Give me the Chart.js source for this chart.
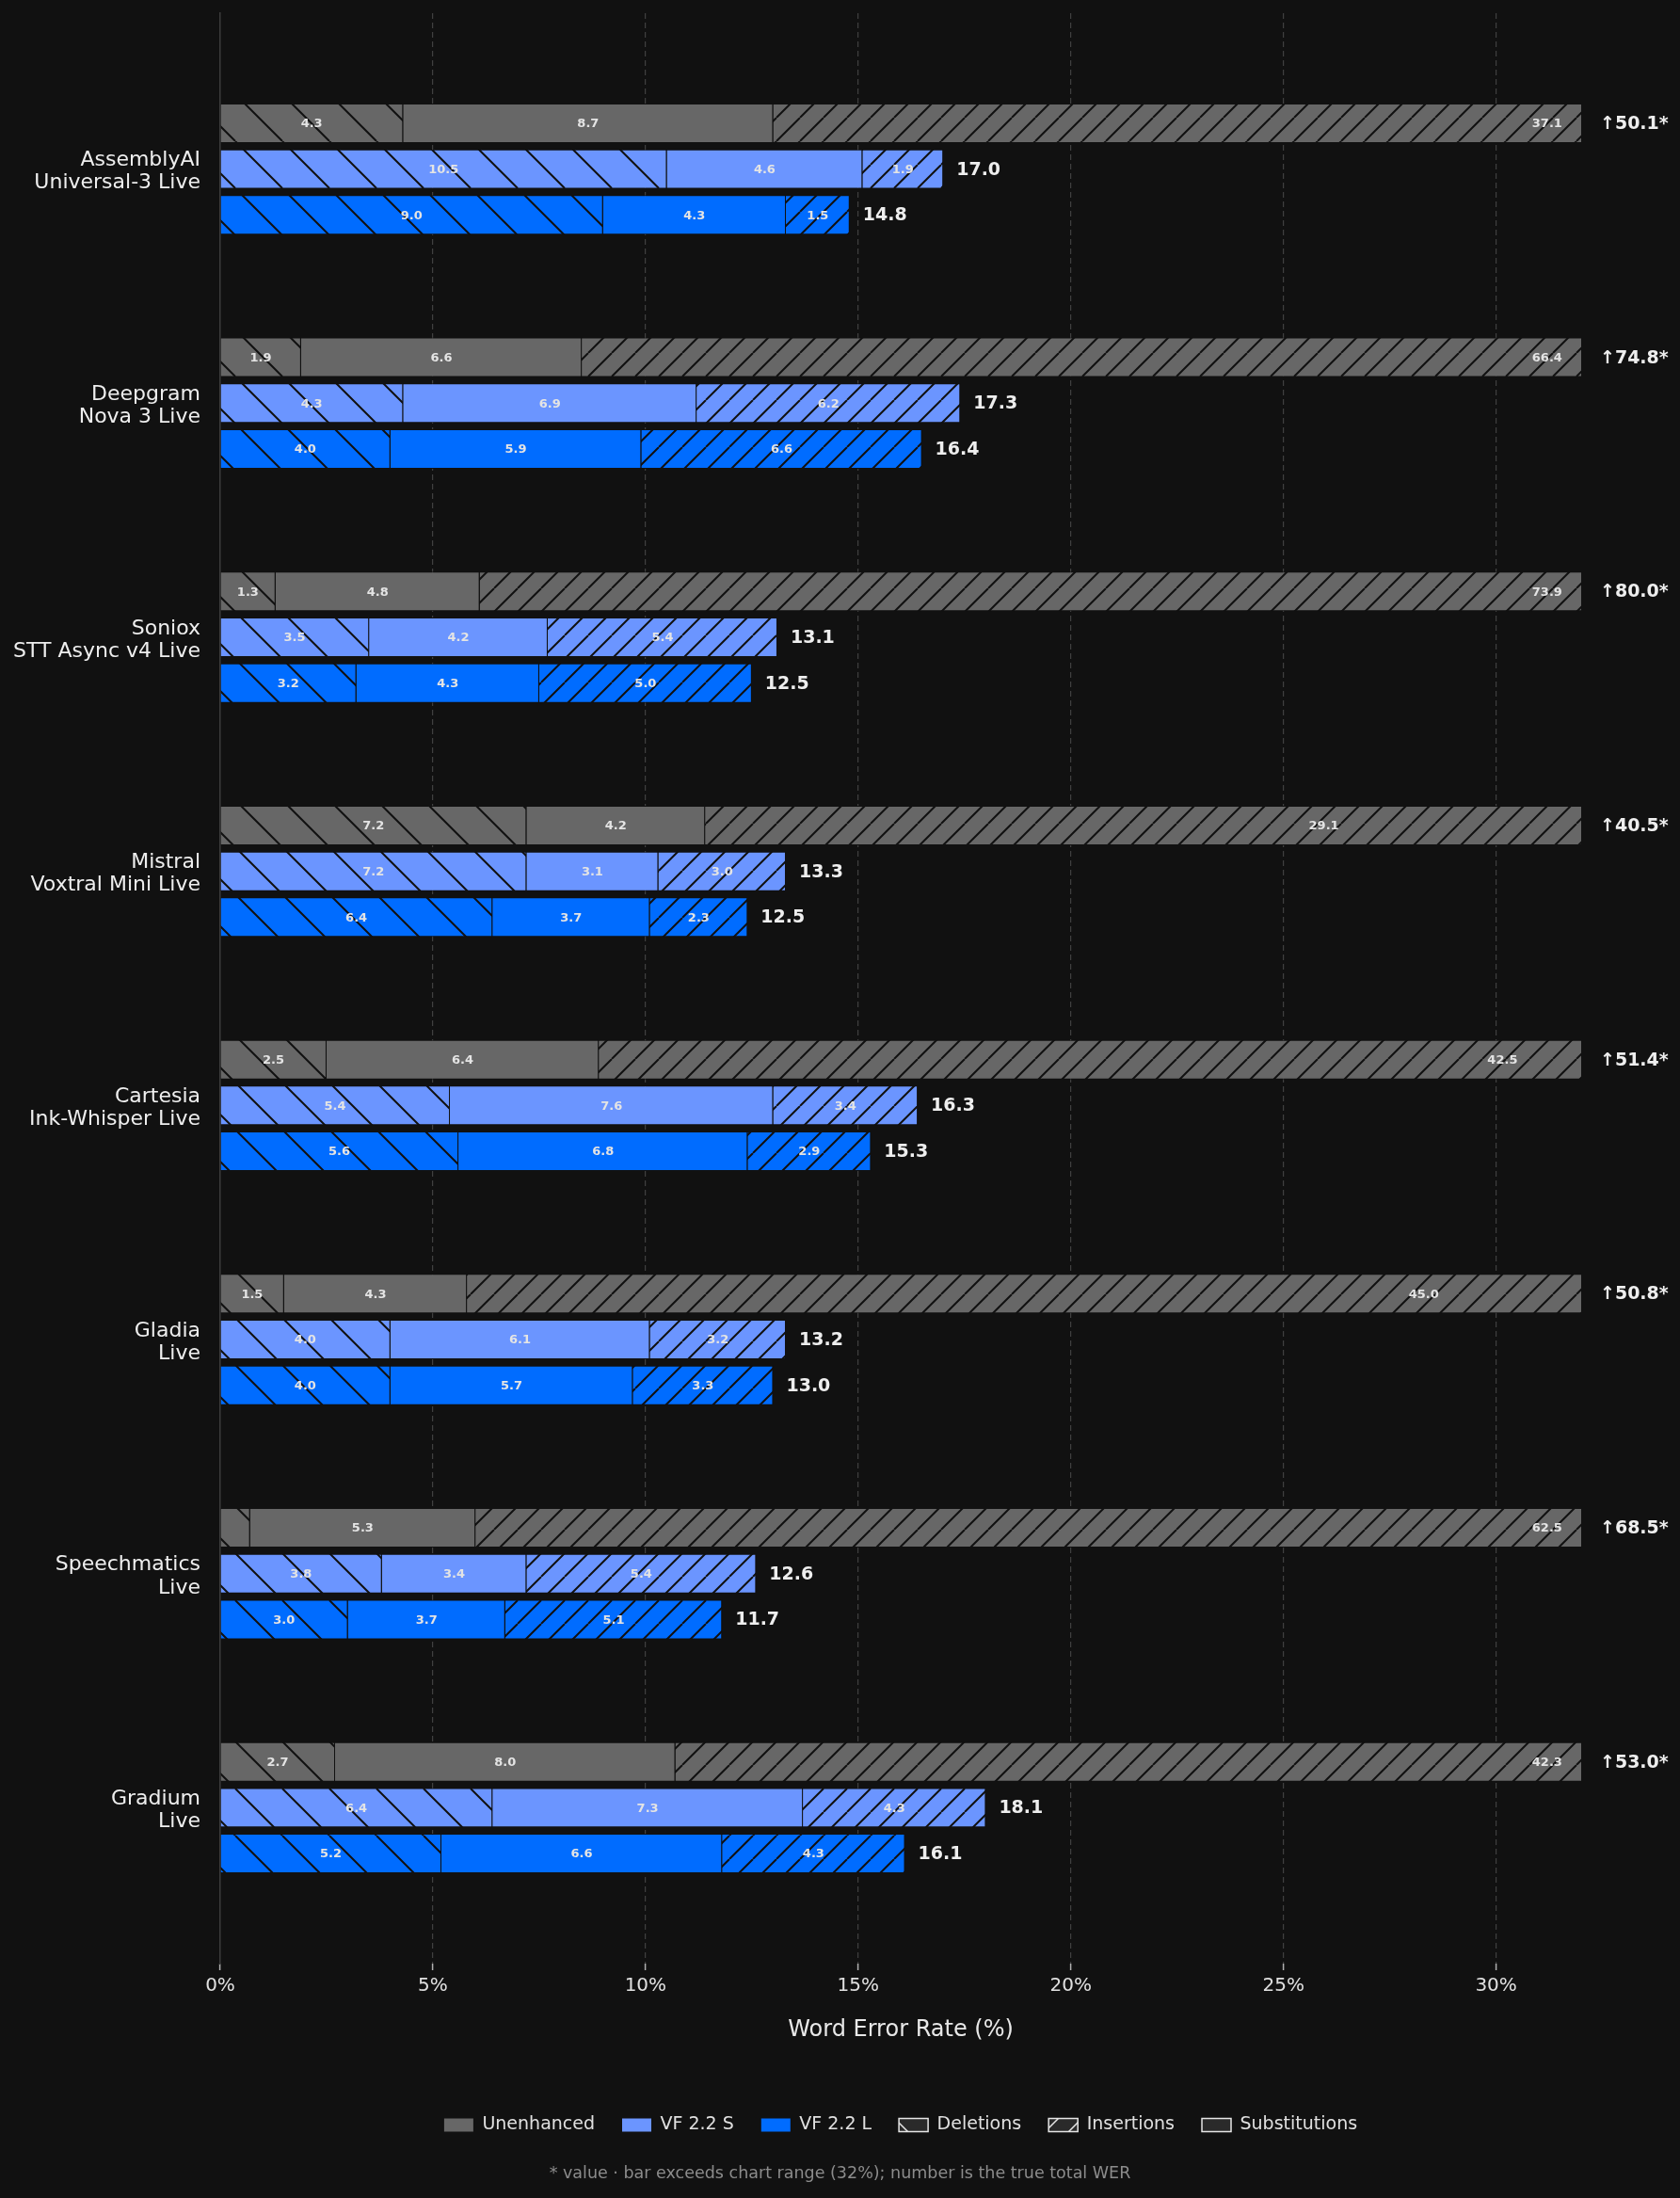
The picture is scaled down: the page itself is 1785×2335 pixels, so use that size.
<!DOCTYPE html>
<html>
<head>
<meta charset="utf-8">
<title>WER breakdown</title>
<script src="https://cdn.jsdelivr.net/npm/chart.js@4.4.1/dist/chart.umd.min.js"></script>
<style>
  html, body { margin: 0; padding: 0; background: #111111; }
  #wrap { width: 1785px; height: 2335px; position: relative; }
</style>
</head>
<body>
<div id="wrap"><canvas id="werChart"></canvas></div>
<script>
// Providers (two-line labels on the y axis)
const providers = [
    ['AssemblyAI', 'Universal-3 Live'],
    ['Deepgram', 'Nova 3 Live'],
    ['Soniox', 'STT Async v4 Live'],
    ['Mistral', 'Voxtral Mini Live'],
    ['Cartesia', 'Ink-Whisper Live'],
    ['Gladia', 'Live'],
    ['Speechmatics', 'Live'],
    ['Gradium', 'Live']
];

// Unenhanced: deletions / substitutions / insertions (%)
const unDel = [4.3, 1.9, 1.3, 7.2, 2.5, 1.5, 0.7, 2.7];
const unSub = [8.7, 6.6, 4.8, 4.2, 6.4, 4.3, 5.3, 8.0];
const unIns = [37.1, 66.4, 73.9, 29.1, 42.5, 45.0, 62.5, 42.3];
const unTotal = [50.1, 74.8, 80.0, 40.5, 51.4, 50.8, 68.5, 53.0];

// VF 2.2 S
const sDel = [10.5, 4.3, 3.5, 7.2, 5.4, 4.0, 3.8, 6.4];
const sSub = [4.6, 6.9, 4.2, 3.1, 7.6, 6.1, 3.4, 7.3];
const sIns = [1.9, 6.2, 5.4, 3.0, 3.4, 3.2, 5.4, 4.3];
const sTotal = [17.0, 17.3, 13.1, 13.3, 16.3, 13.2, 12.6, 18.1];

// VF 2.2 L
const lDel = [9.0, 4.0, 3.2, 6.4, 5.6, 4.0, 3.0, 5.2];
const lSub = [4.3, 5.9, 4.3, 3.7, 6.8, 5.7, 3.7, 6.6];
const lIns = [1.5, 6.6, 5.0, 2.3, 2.9, 3.3, 5.1, 4.3];
const lTotal = [14.8, 16.4, 12.5, 12.5, 15.3, 13.0, 11.7, 16.1];

const xTicks = [0, 5, 10, 15, 20, 25, 30];
const xMax = 32;

const canvas = document.getElementById('werChart');
const ctx = canvas.getContext('2d');

// hatch pattern: dir 'back' = "\" , 'fwd' = "/"
function makeHatch(bg, line, dir, step, lw) {
    const c = document.createElement('canvas');
    c.width = step;
    c.height = step;
    const g = c.getContext('2d');
    g.fillStyle = bg;
    g.fillRect(0, 0, step, step);
    g.strokeStyle = line;
    g.lineWidth = lw;
    g.beginPath();
    for (let k = -1; k <= 1; k++) {
        if (dir === 'back') {
            g.moveTo(k * step, 0);
            g.lineTo(k * step + step, step);
        } else {
            g.moveTo(k * step, step);
            g.lineTo(k * step + step, 0);
        }
    }
    g.stroke();
    return ctx.createPattern(c, 'repeat');
}

const groups = [
    { name: 'Unenhanced', stack: 'U', color: '#676767', parts: [unDel, unSub, unIns], total: unTotal },
    { name: 'VF 2.2 S', stack: 'S', color: '#6b95ff', parts: [sDel, sSub, sIns], total: sTotal },
    { name: 'VF 2.2 L', stack: 'L', color: '#006cff', parts: [lDel, lSub, lIns], total: lTotal }
];
const partNames = ['Deletions', 'Substitutions', 'Insertions'];

const datasets = [];
groups.forEach(grp => {
    const fills = [
        makeHatch(grp.color, '#111111', 'back', 50, 2),
        grp.color,
        makeHatch(grp.color, '#111111', 'fwd', 25, 2)
    ];
    grp.parts.forEach((arr, pi) => {
        datasets.push({
            label: grp.name + ' ' + partNames[pi],
            stack: grp.stack,
            data: arr.map((v, i) => ({ x: v, y: i })),
            backgroundColor: fills[pi],
            borderColor: '#111111',
            borderWidth: 1,
            categoryPercentage: 0.5875,
            barPercentage: 0.862
        });
    });
});

const legendBg = '#2a2a2a';
const legendText = '#e0e0e0';
const legendItems = [
    { text: 'Unenhanced', fillStyle: '#676767', strokeStyle: '#676767', lineWidth: 0 },
    { text: 'VF 2.2 S', fillStyle: '#6b95ff', strokeStyle: '#6b95ff', lineWidth: 0 },
    { text: 'VF 2.2 L', fillStyle: '#006cff', strokeStyle: '#006cff', lineWidth: 0 },
    { text: 'Deletions', fillStyle: makeHatch(legendBg, '#e6e6e6', 'back', 50, 1.5), strokeStyle: '#e6e6e6', lineWidth: 1.5 },
    { text: 'Insertions', fillStyle: makeHatch(legendBg, '#e6e6e6', 'fwd', 25, 1.5), strokeStyle: '#e6e6e6', lineWidth: 1.5 },
    { text: 'Substitutions', fillStyle: legendBg, strokeStyle: '#e6e6e6', lineWidth: 1.5 }
];

// segment values, totals and the footnote
const valueLabels = {
    id: 'valueLabels',
    afterDatasetsDraw(chart) {
        const c = chart.ctx;
        const x = chart.scales.x;
        const area = chart.chartArea;
        c.save();
        groups.forEach((grp, gi) => {
            const meta = chart.getDatasetMeta(gi * 3);
            providers.forEach((p, i) => {
                const y = meta.data[i].y;
                let start = 0;
                c.font = 'bold 13px "DejaVu Sans"';
                c.fillStyle = '#e4e4e4';
                c.textAlign = 'center';
                c.textBaseline = 'middle';
                grp.parts.forEach(arr => {
                    const v = arr[i];
                    const end = start + v;
                    if (v >= 1) {
                        const mid = Math.min((start + end) / 2, 31.2);
                        c.fillText(v.toFixed(1), x.getPixelForValue(mid), y + 1);
                    }
                    start = end;
                });
                c.font = 'bold 19px "DejaVu Sans"';
                c.fillStyle = '#eeeeee';
                c.textAlign = 'left';
                if (start > xMax) {
                    c.fillText('\u2191' + grp.total[i].toFixed(1) + '*', area.right + 20, y + 1);
                } else {
                    c.fillText(grp.total[i].toFixed(1), x.getPixelForValue(start) + 14, y + 1);
                }
            });
        });
        c.font = '17.5px "DejaVu Sans"';
        c.fillStyle = '#8c8c8c';
        c.textAlign = 'center';
        c.fillText('* value \u00b7 bar exceeds chart range (32%); number is the true total WER', chart.width / 2, 2309);
        c.restore();
    }
};

new Chart(ctx, {
    type: 'bar',
    data: { datasets: datasets },
    plugins: [valueLabels],
    options: {
        indexAxis: 'y',
        responsive: true,
        maintainAspectRatio: false,
        animation: false,
        layout: {
            padding: { top: 14, right: 105, bottom: 58, left: 0 }
        },
        scales: {
            x: {
                type: 'linear',
                stacked: true,
                min: 0,
                max: xMax,
                afterBuildTicks: axis => { axis.ticks = xTicks.map(v => ({ value: v })); },
                afterFit: axis => { axis.height = 133; },
                ticks: {
                    color: '#e0e0e0',
                    font: { family: 'DejaVu Sans', size: 20 },
                    padding: 5,
                    callback: v => v + '%'
                },
                grid: {
                    color: c => c.tick && c.tick.value === 0 ? 'rgba(0,0,0,0)' : '#404040',
                    lineWidth: 1.2,
                    tickColor: '#b0b0b0',
                    tickBorderDash: [],
                    tickLength: 7,
                    tickWidth: 1.5
                },
                border: { display: false, dash: [6, 4] },
                title: {
                    display: true,
                    text: 'Word Error Rate (%)',
                    color: '#e8e8e8',
                    font: { family: 'DejaVu Sans', size: 24 },
                    padding: { top: 10, bottom: 48 }
                }
            },
            y: {
                type: 'linear',
                reverse: true,
                offset: false,
                min: -0.666,
                max: 7.666,
                afterBuildTicks: axis => { axis.ticks = providers.map((p, i) => ({ value: i })); },
                afterFit: axis => {
                    axis.width = 234;
                    axis.paddingTop = 0;
                    axis.paddingBottom = 0;
                },
                ticks: {
                    color: '#eeeeee',
                    autoSkip: false,
                    padding: 21,
                    labelOffset: 3,
                    font: { family: 'DejaVu Sans', size: 22, lineHeight: 1.1 },
                    callback: v => providers[Math.round(v)]
                },
                grid: { display: false, drawTicks: false, offset: false },
                border: { display: true, color: '#3c3c3c', width: 1.5 }
            }
        },
        plugins: {
            tooltip: { enabled: false },
            legend: {
                position: 'bottom',
                fullSize: false,
                labels: {
                    color: legendText,
                    font: { family: 'DejaVu Sans', size: 19 },
                    boxWidth: 31,
                    boxHeight: 14,
                    padding: 29,
                    generateLabels: () => legendItems.map(it => Object.assign({ hidden: false, fontColor: legendText }, it))
                }
            }
        }
    }
});
</script>
</body>
</html>
